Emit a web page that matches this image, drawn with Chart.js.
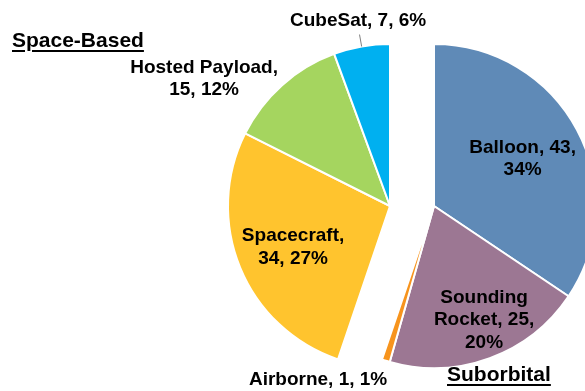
<!DOCTYPE html>
<html lang="en">
<head>
    <meta charset="UTF-8">
    <title>Mission Platforms</title>
    <script src="https://cdn.jsdelivr.net/npm/chart.js"></script>
    <style>
        html, body { margin: 0; padding: 0; background: #fff; }
        .wrap { position: relative; width: 585px; height: 391px; overflow: hidden; }
        .group-title {
            position: absolute;
            font: bold 21px "Liberation Sans", Arial, sans-serif;
            text-decoration: underline;
            text-decoration-thickness: 2px;
            text-underline-offset: 3px;
            color: #000;
            white-space: nowrap;
        }
    </style>
</head>
<body>
    <div class="wrap">
        <canvas id="platformChart" width="585" height="391"></canvas>
        <div class="group-title" style="left: 12px; top: 28px;">Space-Based</div>
        <div class="group-title" style="left: 447px; top: 362px;">Suborbital</div>
    </div>

    <script>
        // Data
        const platforms = ['Balloon', 'Sounding Rocket', 'Airborne', 'Spacecraft', 'Hosted Payload', 'CubeSat'];
        const counts = [43, 25, 1, 34, 15, 7];
        const groups = ['Suborbital', 'Suborbital', 'Suborbital', 'Space-Based', 'Space-Based', 'Space-Based'];

        const colors = ['#5f8ab7', '#9c7793', '#f7941d', '#ffc42e', '#a5d55f', '#00b0f0'];

        // label text broken into lines, and where it sits: radius factor + turn (deg) from the slice middle
        const labelLines = [
            ['Balloon, 43,', '34%'],
            ['Sounding', 'Rocket, 25,', '20%'],
            ['Airborne, 1, 1%'],
            ['Spacecraft,', '34, 27%'],
            ['Hosted Payload,', '15, 12%'],
            ['CubeSat, 7, 6%']
        ];
        const labelPlace = [
            { r: 0.62, turn: 0 },
            { r: 0.77, turn: -3.5 },
            { r: 1.29, turn: 16.4 },
            { r: 0.65, turn: -0.7 },
            { r: 1.39, turn: -13.9 },
            { r: 1.16, turn: 0.3 }
        ];
        const leaderLine = [false, false, false, false, false, true];

        // each group is pulled apart sideways
        const groupShift = { 'Suborbital': 22, 'Space-Based': -22 };

        const total = counts.reduce((a, b) => a + b, 0);

        const explodeGroups = {
            id: 'explodeGroups',
            afterDatasetsUpdate(chart) {
                const meta = chart.getDatasetMeta(0);
                meta.data.forEach((arc, i) => {
                    arc.x += groupShift[groups[i]];
                });
            }
        };

        const sliceLabels = {
            id: 'sliceLabels',
            afterDatasetsDraw(chart) {
                const ctx = chart.ctx;
                const meta = chart.getDatasetMeta(0);
                ctx.save();
                ctx.font = 'bold 19px "Liberation Sans", Arial, sans-serif';
                ctx.fillStyle = '#000';
                ctx.textAlign = 'center';
                ctx.textBaseline = 'middle';
                meta.data.forEach((arc, i) => {
                    const mid = (arc.startAngle + arc.endAngle) / 2;
                    const r = arc.outerRadius;
                    if (leaderLine[i]) {
                        ctx.strokeStyle = '#7f7f7f';
                        ctx.lineWidth = 1;
                        ctx.beginPath();
                        ctx.moveTo(arc.x + Math.cos(mid) * r, arc.y + Math.sin(mid) * r);
                        ctx.lineTo(arc.x + Math.cos(mid) * r * 1.075, arc.y + Math.sin(mid) * r * 1.075);
                        ctx.stroke();
                    }
                    const a = mid + labelPlace[i].turn * Math.PI / 180;
                    const cx = arc.x + Math.cos(a) * r * labelPlace[i].r;
                    const cy = arc.y + Math.sin(a) * r * labelPlace[i].r;
                    const lines = labelLines[i];
                    const lh = 22.5;
                    lines.forEach((line, k) => {
                        ctx.fillText(line, cx, cy + (k - (lines.length - 1) / 2) * lh);
                    });
                });
                ctx.restore();
            }
        };

        const platformChart = new Chart(document.getElementById('platformChart'), {
            type: 'pie',
            data: {
                labels: platforms,
                datasets: [{
                    data: counts,
                    backgroundColor: colors,
                    borderColor: '#ffffff',
                    borderWidth: 2,
                    clip: false
                }]
            },
            options: {
                responsive: false,
                animation: false,
                radius: 162,
                layout: {
                    padding: { left: 250, right: 11, top: 44, bottom: 23 }
                },
                plugins: {
                    legend: { display: false },
                    tooltip: {
                        callbacks: {
                            label: (c) => `${c.raw}, ${Math.round(c.raw / total * 100)}%`
                        }
                    }
                }
            },
            plugins: [explodeGroups, sliceLabels]
        });
    </script>
</body>
</html>
